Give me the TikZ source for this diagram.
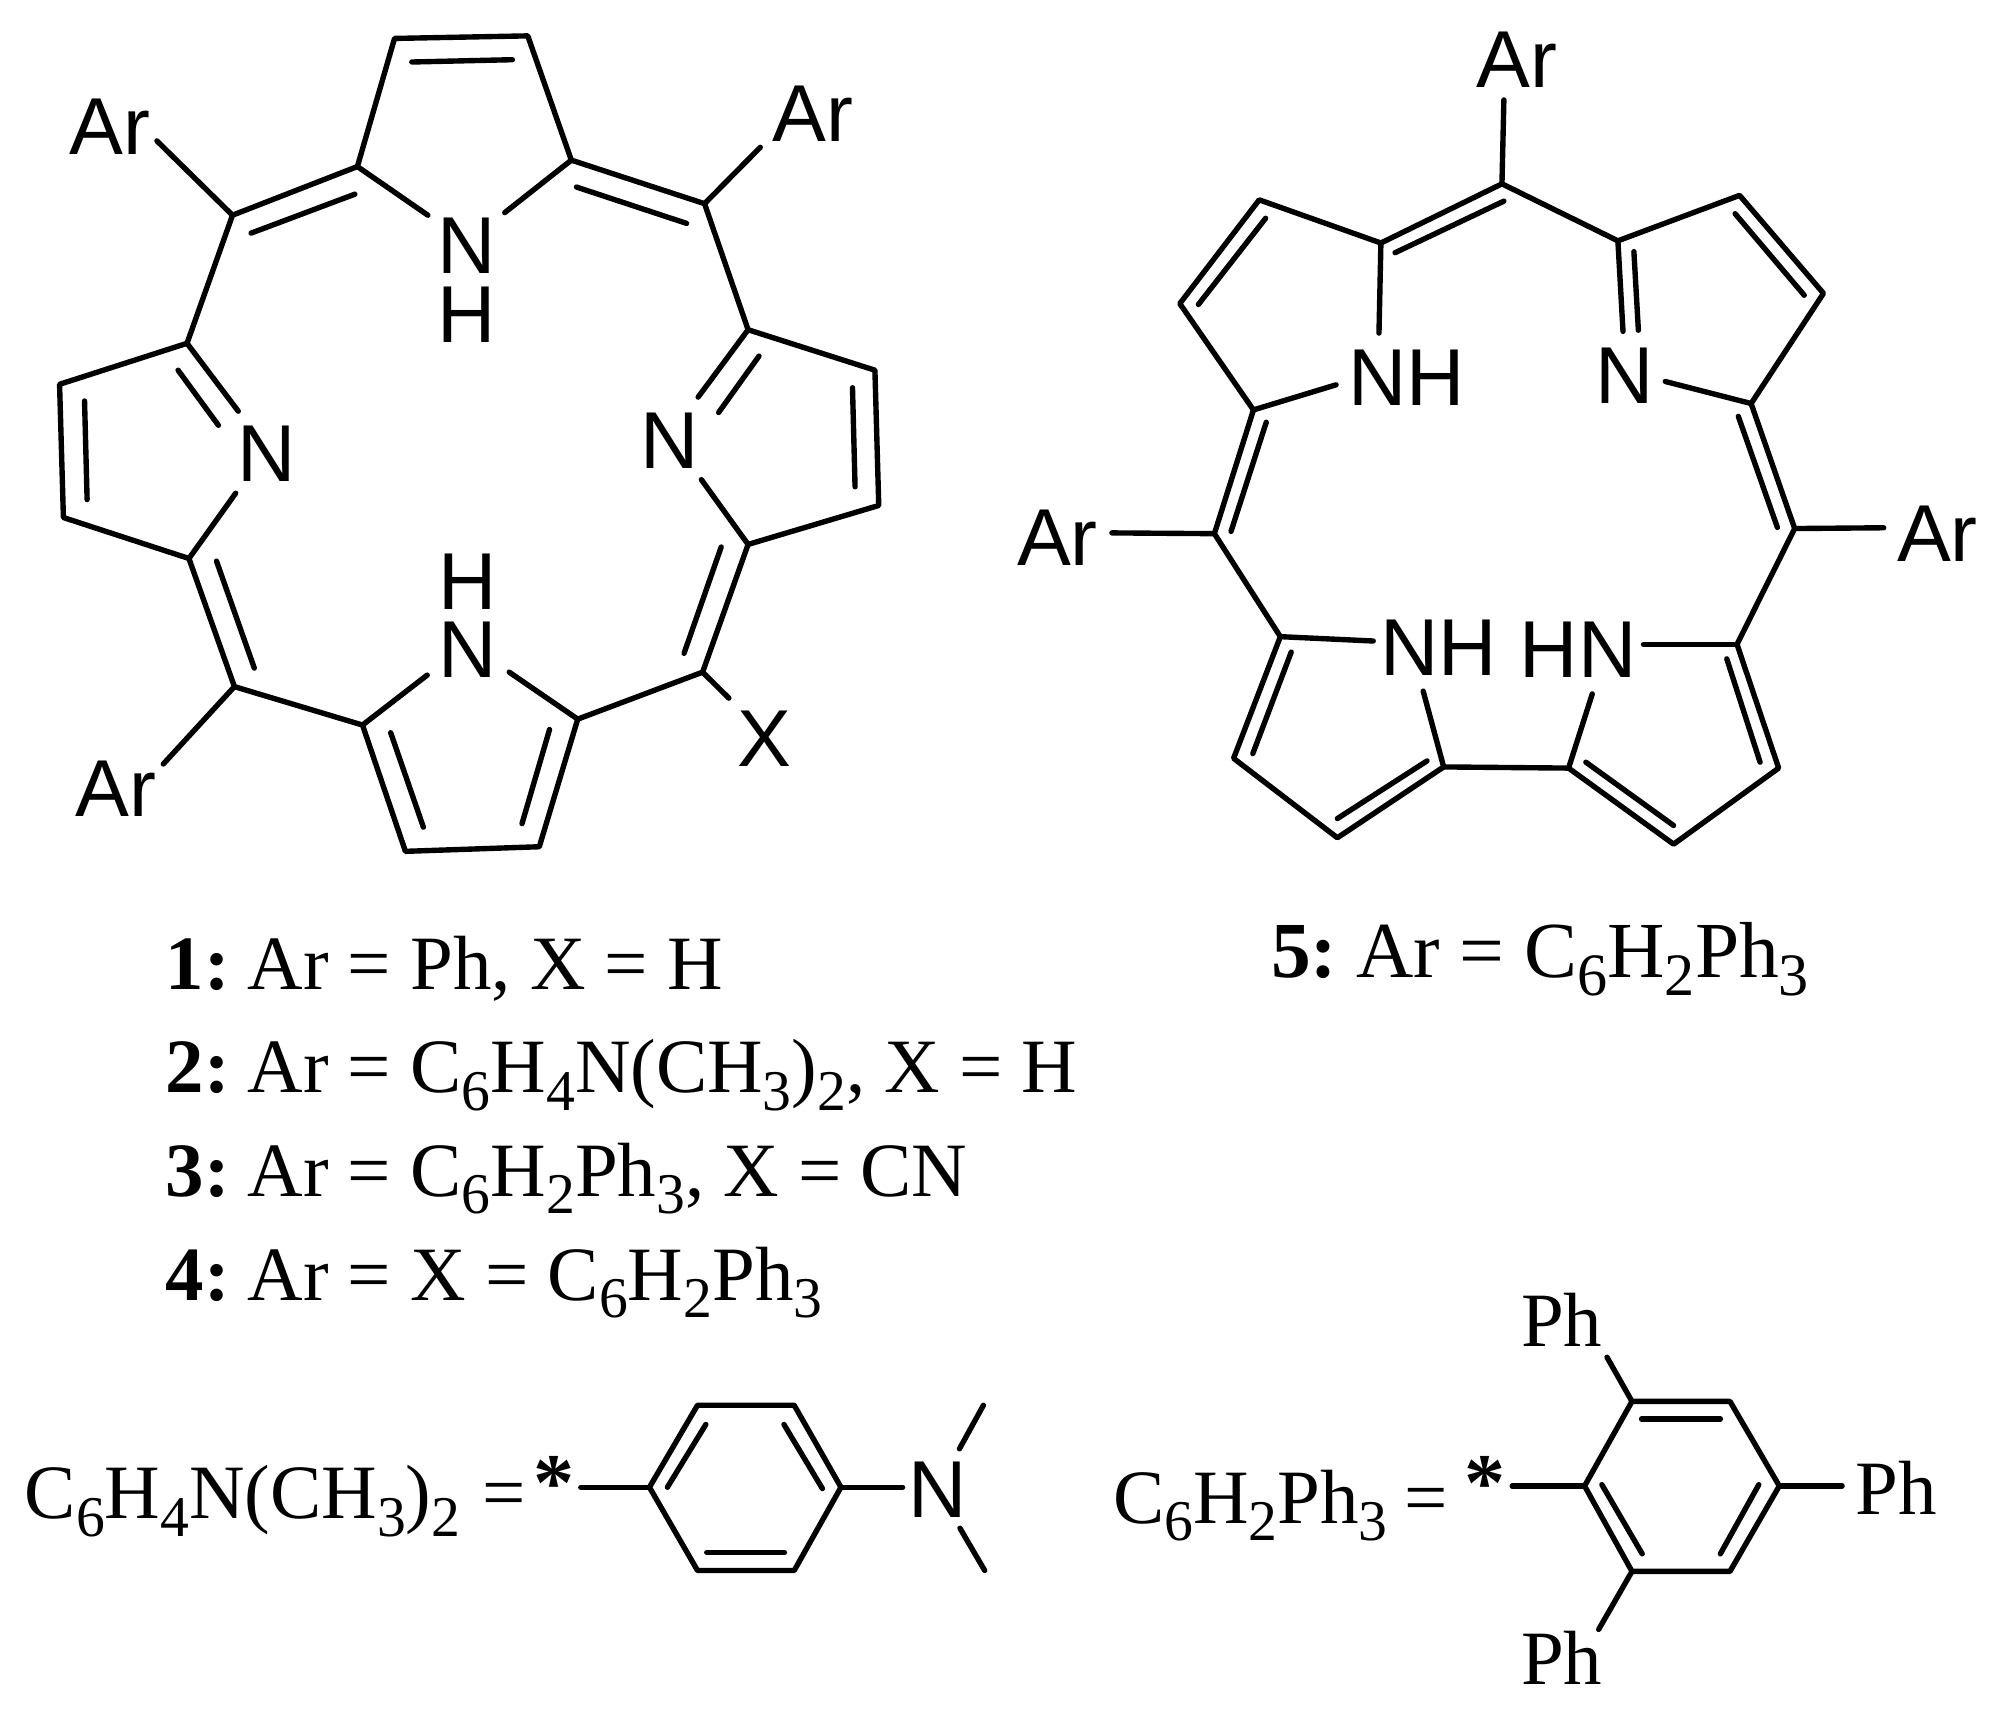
\documentclass[tikz,border=0pt]{standalone}
\usepackage{fontspec}
\setmainfont{Liberation Serif}
\newfontfamily\arialfont{Liberation Sans}
\newcommand{\sbs}[1]{\raisebox{-6.8pt}{\fontsize{22.5}{22.5}\selectfont #1}}
\newcommand{\sbl}[1]{\raisebox{-7pt}{\fontsize{23.5}{23.5}\selectfont #1}}
\tikzset{
  bond/.style={line width=2.1pt,line cap=round,line join=round},
  atomlabel/.style={inner sep=0pt,anchor=center,font=\arialfont\fontsize{31.5}{31.5}\selectfont},
  txt/.style={inner sep=0pt,anchor=base west,font=\fontsize{30}{30}\selectfont},
  txtlarge/.style={inner sep=0pt,anchor=base west,font=\fontsize{31}{31}\selectfont},
  star/.style={inner sep=0pt,anchor=base,font=\bfseries\fontsize{32}{32}\selectfont}
}
\begin{document}
\begin{tikzpicture}[x=0.5pt,y=-0.5pt]
\useasboundingbox (0,0) rectangle (1566,1339.6);
% --- porphyrin left
\coordinate (a1) at (279,130); \coordinate (a2) at (308,30); \coordinate (a3) at (412,28); \coordinate (a4) at (446,125);
\coordinate (mtl) at (181.5,168); \coordinate (mtr) at (550,159);
\coordinate (b1) at (146,268); \coordinate (b2) at (46.5,300); \coordinate (b3) at (49.5,404); \coordinate (b4) at (147.5,436);
\coordinate (c1) at (584,257.4); \coordinate (c2) at (683,289); \coordinate (c3) at (686,394.6); \coordinate (c4) at (584,425);
\coordinate (mbl) at (183,536); \coordinate (mbr) at (548.5,524.7);
\coordinate (d1) at (283,566); \coordinate (d2) at (316.5,664.6); \coordinate (d3) at (421,661); \coordinate (d4) at (451,561.4);
\node[atomlabel] (ntop) at (364,192) {N};
\node[atomlabel] (htop) at (364,246) {H};
\node[atomlabel] (nleft) at (208,354) {N};
\node[atomlabel] (nright) at (523,344) {N};
\node[atomlabel] (hbot) at (365,454) {H};
\node[atomlabel] (nbot) at (365,507) {N};
\node[atomlabel] (artl) at (85.5,99) {Ar};
\node[atomlabel] (artr) at (634.5,89) {Ar};
\node[atomlabel] (arbl) at (90.5,616) {Ar};
\node[atomlabel] (xsub) at (596.5,577) {X};
\draw[bond] (334,168) -- (a1) -- (a2) -- (a3) -- (a4) -- (394,166);
\draw[bond] (a1) -- (mtl) -- (b1) -- (b2) -- (b3) -- (b4) -- (mbl) -- (d1) -- (d2) -- (d3) -- (d4) -- (mbr) -- (c4) -- (c3) -- (c2) -- (c1) -- (mtr) -- (a4);
\draw[bond] (b1) -- (186,321);
\draw[bond] (b4) -- (184,385);
\draw[bond] (c1) -- (545,310);
\draw[bond] (c4) -- (547.5,374.4);
\draw[bond] (d1) -- (333.5,527);
\draw[bond] (d4) -- (397.5,524.7);
\draw[bond] (mtl) -- (122.5,110);
\draw[bond] (mtr) -- (593.5,115);
\draw[bond] (mbl) -- (127.5,596.4);
\draw[bond] (mbr) -- (569,545);
\draw[bond] (321.5,48.4) -- (400,46.6);
\draw[bond] (196,182) -- (277,151.6);
\draw[bond] (450,146) -- (536,174.4);
\draw[bond] (139,289) -- (170.5,332);
\draw[bond] (66,313) -- (68,390);
\draw[bond] (169,438) -- (198.5,521.5);
\draw[bond] (561,322) -- (592.5,278);
\draw[bond] (665.5,302.7) -- (667.5,380);
\draw[bond] (563,427) -- (534,510);
\draw[bond] (305,572) -- (330.5,645.7);
\draw[bond] (429,569.5) -- (407.5,643);
% --- right macrocycle
\coordinate (mt) at (1172.5,143.5);
\coordinate (e1) at (1078,189.7); \coordinate (e2) at (983,156); \coordinate (e3) at (921,237); \coordinate (e4) at (978.5,320);
\coordinate (f1) at (1263,188); \coordinate (f2) at (1358,152.5); \coordinate (f3) at (1423.5,229); \coordinate (f4) at (1367,315);
\coordinate (ml) at (948,416.6); \coordinate (mr) at (1401,412.6);
\coordinate (g1) at (999.5,497); \coordinate (g2) at (963,592); \coordinate (g3) at (1044,654); \coordinate (g4) at (1127,598.7);
\coordinate (h1) at (1356,503); \coordinate (h2) at (1388.5,599.6); \coordinate (h3) at (1306.5,659); \coordinate (h4) at (1224.5,599.6);
\node[atomlabel] (nh1) at (1098,295) {NH};
\node[atomlabel] (n2) at (1268,293) {N};
\node[atomlabel] (nh3) at (1123,506) {NH};
\node[atomlabel] (hn4) at (1232,507.5) {HN};
\node[atomlabel] (ar1) at (1184,46.5) {Ar};
\node[atomlabel] (ar2) at (825.5,420) {Ar};
\node[atomlabel] (ar3) at (1512.5,417) {Ar};
\draw[bond] (1076.5,260) -- (e1) -- (e2) -- (e3) -- (e4) -- (ml) -- (g1) -- (g2) -- (g3) -- (g4) -- (h4) -- (h3) -- (h2) -- (h1) -- (mr) -- (f4) -- (f3) -- (f2) -- (f1) -- (mt) -- (e1);
\draw[bond] (e4) -- (1043,300.4);
\draw[bond] (f1) -- (1267,258.7);
\draw[bond] (f4) -- (1300,297.8);
\draw[bond] (g1) -- (1072,500.4);
\draw[bond] (h1) -- (1283,503);
\draw[bond] (g4) -- (1111,539.5);
\draw[bond] (h4) -- (1243,541.7);
\draw[bond] (mt) -- (1174,78);
\draw[bond] (ml) -- (868,416);
\draw[bond] (mr) -- (1470.5,412);
\draw[bond] (1089,197.3) -- (1174,157);
\draw[bond] (988,170.4) -- (935.5,237.7);
\draw[bond] (1275.5,196.4) -- (1279,257.8);
\draw[bond] (1354.5,166.8) -- (1408.5,230.5);
\draw[bond] (988.5,329.6) -- (961,414.8);
\draw[bond] (1357,325) -- (1387.5,411.7);
\draw[bond] (1008,509) -- (978,588.3);
\draw[bond] (1044,639) -- (1114,594);
\draw[bond] (1238,595) -- (1306.5,644.4);
\draw[bond] (1348,514.3) -- (1374,595);
% --- captions
\node[txt] (l1) at (129,772.5) {\textbf{1:}\hspace{-3pt} Ar = Ph, X = H};
\node[txt] (l2) at (129,853) {\textbf{2:}\hspace{-3pt} Ar = C\sbs{6}H\sbs{4}N(CH\sbs{3})\sbs{2}, X = H};
\node[txt] (l3) at (129,934) {\textbf{3:}\hspace{-3pt} Ar = C\sbs{6}H\sbs{2}Ph\sbs{3}, X = CN};
\node[txt] (l4) at (129,1015) {\textbf{4:}\hspace{-3pt} Ar = X = C\sbs{6}H\sbs{2}Ph\sbs{3}};
\node[txtlarge] (l5) at (992,763) {\textbf{5:}\hspace{-3pt} Ar = C\sbl{6}H\sbl{2}Ph\sbl{3}};
% --- dimethylaminophenyl
\node[txt] (f6) at (19,1185.5) {C\sbs{6}H\sbs{4}N(CH\sbs{3})\sbs{2}\hspace{1pt} =};
\node[star] (s1) at (432.5,1179) {*};
\coordinate (p1) at (507,1161); \coordinate (p2) at (544.5,1097); \coordinate (p3) at (620,1097);
\coordinate (p4) at (656.5,1161); \coordinate (p5) at (620,1226); \coordinate (p6) at (544.5,1226);
\draw[bond] (p1) -- (p2) -- (p3) -- (p4) -- (p5) -- (p6) -- cycle;
\draw[bond] (521,1161) -- (551,1112);
\draw[bond] (612,1112) -- (642,1162);
\draw[bond] (551.7,1212) -- (612.4,1212);
\draw[bond] (453.4,1161) -- (p1);
\draw[bond] (p4) -- (704.6,1161);
\node[atomlabel] (nme) at (732,1163) {N};
\draw[bond] (749,1131) -- (767.7,1097);
\draw[bond] (749.4,1193) -- (768.7,1226);
% --- triphenylphenyl
\node[txt] (f7) at (868.5,1189) {C\sbs{6}H\sbs{2}Ph\sbs{3}\hspace{-1pt} =};
\node[star] (s2) at (1159,1179) {*};
\coordinate (q1) at (1237,1160); \coordinate (q2) at (1274,1094); \coordinate (q3) at (1350.5,1094);
\coordinate (q4) at (1389,1160); \coordinate (q5) at (1350.5,1226.7); \coordinate (q6) at (1274,1226.7);
\draw[bond] (q1) -- (q2) -- (q3) -- (q4) -- (q5) -- (q6) -- cycle;
\draw[bond] (1281.5,1107.6) -- (1343,1107.6);
\draw[bond] (1250.5,1159) -- (1282,1213);
\draw[bond] (1373,1159) -- (1343,1213);
\draw[bond] (1180.5,1160) -- (q1);
\draw[bond] (q4) -- (1438,1160);
\draw[bond] (q2) -- (1254.5,1059.5);
\draw[bond] (q6) -- (1248,1272);
\node[txt] (ph1) at (1187,1051) {Ph};
\node[txt] (ph2) at (1448,1182.5) {Ph};
\node[txt] (ph3) at (1187,1315) {Ph};
\end{tikzpicture}
\end{document}
